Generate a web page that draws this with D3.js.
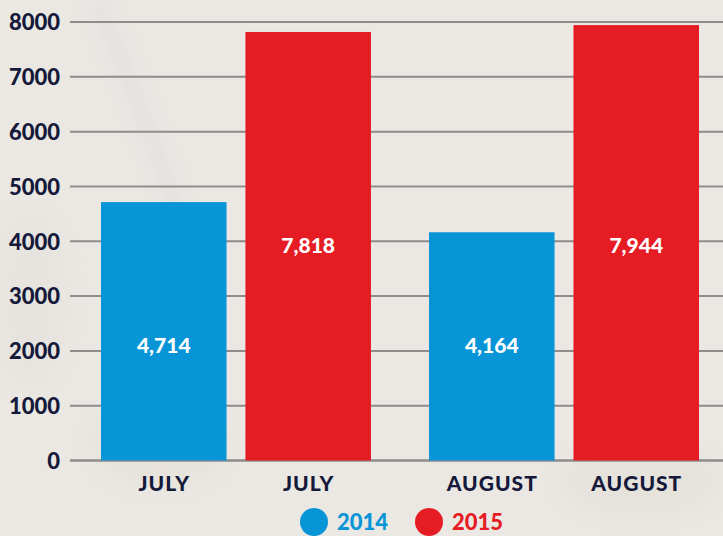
<!DOCTYPE html>
<html>
<head>
<meta charset="utf-8">
<script src="https://cdn.jsdelivr.net/npm/d3@7"></script>
<style>
  body { margin: 0; background: #ebe8e4; }
  svg { display: block; }
</style>
</head>
<body>
<script>
var months = ["JULY", "AUGUST"];
var years = ["2014", "2015"];
var values2014 = [4714, 4164];
var values2015 = [7818, 7944];
var yTicks = [0, 1000, 2000, 3000, 4000, 5000, 6000, 7000, 8000];

var colors = { "2014": "#0795d7", "2015": "#e61c24" };
var ink = "#15193a";

var width = 723, height = 536;

var svg = d3.select("body").append("svg")
  .attr("width", width)
  .attr("height", height);

// soft background wash like the photo behind the chart
svg.append("rect")
  .attr("width", width).attr("height", height)
  .attr("fill", "#ebe8e4");
var defs = svg.append("defs");
defs.append("filter").attr("id", "blur")
  .append("feGaussianBlur").attr("stdDeviation", 8);
var bg = svg.append("g").attr("filter", "url(#blur)").attr("opacity", 0.15);
bg.append("path").attr("d", "M90,0 C110,60 150,150 200,300 L212,300 C170,150 130,60 106,0 Z").attr("fill", "#bdb5c2");
bg.append("ellipse").attr("cx", 160).attr("cy", 440).attr("rx", 70).attr("ry", 50).attr("fill", "#d2c6b2");
bg.append("ellipse").attr("cx", 640).attr("cy", 480).attr("rx", 80).attr("ry", 40).attr("fill", "#cfc8bc");
bg.append("ellipse").attr("cx", 30).attr("cy", 300).attr("rx", 40).attr("ry", 90).attr("fill", "#d6d0c8");

var data = months.map(function(m, i) {
  return { month: m, values: [
    { year: "2014", value: values2014[i] },
    { year: "2015", value: values2015[i] }
  ]};
});

var y = d3.scaleLinear()
  .domain([0, 8000])
  .range([460.5, 22]);

var x0 = d3.scaleBand()
  .domain(months)
  .range([101, 699])
  .paddingInner(0.177)
  .paddingOuter(0);

var x1 = d3.scaleBand()
  .domain(years)
  .range([0, x0.bandwidth()])
  .paddingInner(0.131);

// value labels sit at the same height within a series
var labelLevel = {
  "2014": d3.min(values2014) / 2,
  "2015": d3.min(values2015) / 2
};

var yAxis = d3.axisLeft(y)
  .tickValues(yTicks)
  .tickSize(0)
  .tickPadding(0)
  .tickFormat(d3.format("d"));

var axisG = svg.append("g")
  .attr("transform", "translate(60,0)")
  .call(yAxis);
axisG.select(".domain").remove();
axisG.selectAll("text")
  .attr("fill", ink)
  .attr("font-family", "Lato, sans-serif")
  .attr("font-weight", 900)
  .attr("font-size", 22)
  .attr("dy", "0.36em");

// gridlines
svg.append("g").selectAll("line")
  .data(yTicks)
  .join("line")
  .attr("x1", 70)
  .attr("x2", width)
  .attr("y1", function(d) { return y(d); })
  .attr("y2", function(d) { return y(d); })
  .attr("stroke", "#8e8d8b")
  .attr("stroke-width", function(d) { return d === 0 ? 2.5 : 2; });

var groups = svg.append("g").selectAll("g")
  .data(data)
  .join("g")
  .attr("transform", function(d) { return "translate(" + x0(d.month) + ",0)"; });

groups.selectAll("rect")
  .data(function(d) { return d.values; })
  .join("rect")
  .attr("x", function(d) { return x1(d.year); })
  .attr("y", function(d) { return y(d.value); })
  .attr("width", x1.bandwidth())
  .attr("height", function(d) { return y(0) - y(d.value); })
  .attr("fill", function(d) { return colors[d.year]; });

groups.selectAll("text.value")
  .data(function(d) { return d.values; })
  .join("text")
  .attr("class", "value")
  .attr("x", function(d) { return x1(d.year) + x1.bandwidth() / 2; })
  .attr("y", function(d) { return y(labelLevel[d.year]) + 7; })
  .attr("text-anchor", "middle")
  .attr("fill", "#fff")
  .attr("font-family", "Lato, sans-serif")
  .attr("font-weight", 900)
  .attr("font-size", 21)
  .text(function(d) { return d3.format(",")(d.value); });

groups.selectAll("text.cat")
  .data(function(d) { return d.values.map(function(v) { return { month: d.month, year: v.year }; }); })
  .join("text")
  .attr("class", "cat")
  .attr("x", function(d) { return x1(d.year) + x1.bandwidth() / 2 + 0.5; })
  .attr("y", 491)
  .attr("text-anchor", "middle")
  .attr("fill", ink)
  .attr("font-family", "Lato, sans-serif")
  .attr("font-weight", 900)
  .attr("font-size", 21)
  .attr("letter-spacing", 1)
  .text(function(d) { return d.month; });

// legend
var legendX = d3.scalePoint().domain(years).range([314, 429]);
var legend = svg.append("g").selectAll("g")
  .data(years)
  .join("g")
  .attr("transform", function(d) { return "translate(" + legendX(d) + ",522)"; });
legend.append("circle")
  .attr("r", 14)
  .attr("fill", function(d) { return colors[d]; });
legend.append("text")
  .attr("x", 23)
  .attr("y", 8)
  .attr("fill", function(d) { return colors[d]; })
  .attr("font-family", "Lato, sans-serif")
  .attr("font-weight", 900)
  .attr("font-size", 22)
  .text(function(d) { return d; });
</script>
</body>
</html>
